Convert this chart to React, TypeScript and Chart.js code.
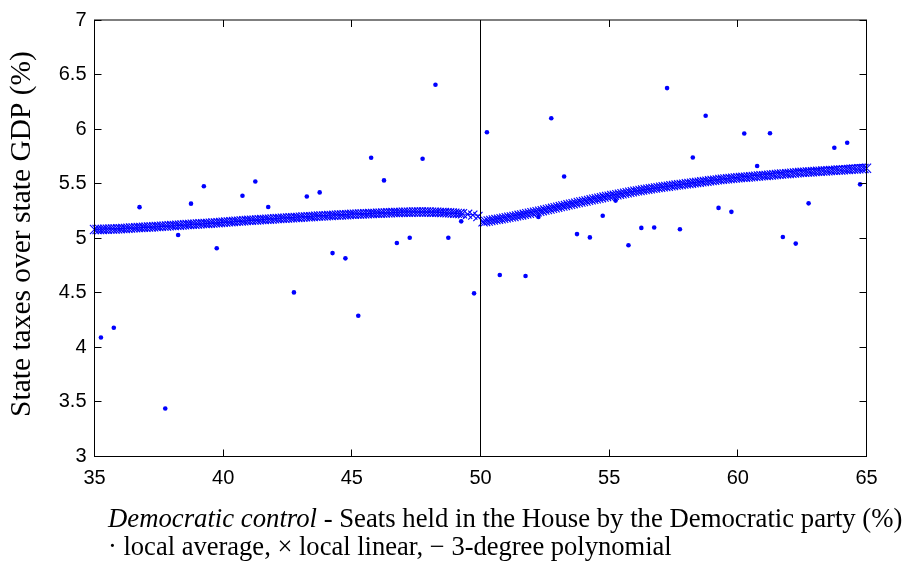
import { useEffect, useRef } from 'react';
import { Chart, registerables } from 'chart.js';

Chart.register(...registerables);

// ---- data ----
const dotX = [35.25, 35.75, 36.75, 37.75, 38.25, 38.75, 39.25, 39.75, 40.75, 41.25, 41.75, 42.75, 43.25, 43.75, 44.25, 44.75, 45.25, 45.75, 46.25, 46.75, 47.25, 47.75, 48.25, 48.75, 49.25, 49.75,
  50.25, 50.75, 51.75, 52.25, 52.75, 53.25, 53.75, 54.25, 54.75, 55.25, 55.75, 56.25, 56.75, 57.25, 57.75, 58.25, 58.75, 59.25, 59.75, 60.25, 60.75, 61.25, 61.75, 62.25, 62.75, 63.75, 64.25, 64.75];
const dotY = [4.09, 4.18, 5.285, 3.44, 5.03, 5.317, 5.476, 4.909, 5.39, 5.52, 5.287, 4.504, 5.383, 5.42, 4.864, 4.816, 4.29, 5.737, 5.53, 4.957, 5.005, 5.728, 6.406, 5.005, 5.155, 4.495,
  5.971, 4.663, 4.654, 5.195, 6.10, 5.566, 5.038, 5.008, 5.206, 5.345, 4.936, 5.095, 5.098, 6.376, 5.083, 5.74, 6.122, 5.278, 5.242, 5.96, 5.662, 5.962, 5.011, 4.951, 5.32, 5.83, 5.875, 5.494];

const crossLeftX = [35.0, 35.2, 35.4, 35.5, 35.8, 36.0, 36.2, 36.4, 36.5, 36.7, 36.9, 37.0, 37.2, 37.4, 37.6, 37.9, 38.1, 38.3, 38.4, 38.6, 38.9, 39.1, 39.3, 39.5, 39.7, 39.9,
  40.1, 40.3, 40.5, 40.7, 40.9, 41.1, 41.3, 41.6, 41.8, 42.0, 42.2, 42.4, 42.7, 42.9, 43.1, 43.3, 43.6, 43.8, 44.0, 44.3, 44.5, 44.8, 45.0, 45.2, 45.5, 45.7,
  46.0, 46.2, 46.5, 46.7, 46.9, 47.1, 47.3, 47.5, 47.7, 47.9, 48.1, 48.3, 48.5, 48.7, 48.9, 49.1, 49.3, 49.5, 49.7, 49.9];
const crossLeftY = [5.08, 5.08, 5.082, 5.083, 5.085, 5.088, 5.09, 5.094, 5.095, 5.098, 5.10, 5.101, 5.104, 5.107, 5.11, 5.114, 5.117, 5.12, 5.122, 5.125, 5.129, 5.132, 5.135, 5.138, 5.141, 5.145,
  5.148, 5.152, 5.156, 5.159, 5.162, 5.165, 5.168, 5.172, 5.175, 5.178, 5.181, 5.184, 5.188, 5.191, 5.194, 5.197, 5.201, 5.204, 5.206, 5.21, 5.213, 5.216, 5.219, 5.221, 5.224, 5.226,
  5.229, 5.231, 5.234, 5.236, 5.237, 5.238, 5.239, 5.24, 5.24, 5.24, 5.239, 5.238, 5.236, 5.234, 5.231, 5.228, 5.224, 5.219, 5.212, 5.20];
const crossLeftX2 = [35.1, 35.3, 35.6, 35.7, 35.9, 36.1, 36.3, 36.6, 36.8, 37.1, 37.3, 37.5, 37.7, 37.8, 38.0, 38.2, 38.5, 38.7, 38.8, 39.0, 39.2, 39.4, 39.6, 39.8,
  40.0, 40.2, 40.4, 40.6, 40.8, 41.0, 41.2, 41.4, 41.5, 41.7, 41.9, 42.1, 42.3, 42.5, 42.6, 42.8, 43.0, 43.2, 43.4, 43.5, 43.7, 43.9, 44.1, 44.2, 44.4, 44.6, 44.7, 44.9,
  45.1, 45.3, 45.4, 45.6, 45.8, 45.9, 46.1, 46.3, 46.4, 46.6, 46.8, 47.0, 47.2, 47.4, 47.6, 47.8, 48.0, 48.2, 48.4, 48.6, 48.8, 49.0, 49.2];
const crossLeftY2 = [5.08, 5.081, 5.084, 5.085, 5.087, 5.089, 5.092, 5.097, 5.099, 5.103, 5.106, 5.108, 5.111, 5.113, 5.116, 5.119, 5.123, 5.127, 5.128, 5.131, 5.134, 5.136, 5.14, 5.143,
  5.147, 5.15, 5.154, 5.157, 5.161, 5.164, 5.166, 5.169, 5.171, 5.174, 5.177, 5.18, 5.183, 5.185, 5.187, 5.19, 5.193, 5.196, 5.198, 5.2, 5.203, 5.205, 5.208, 5.209, 5.212, 5.214, 5.215, 5.218,
  5.22, 5.222, 5.223, 5.225, 5.227, 5.228, 5.23, 5.232, 5.233, 5.235, 5.236, 5.238, 5.239, 5.24, 5.24, 5.24, 5.24, 5.239, 5.237, 5.235, 5.233, 5.23, 5.226];

const crossRightX = [50.1, 50.3, 50.5, 50.7, 50.9, 51.1, 51.3, 51.5, 51.7, 51.9, 52.1, 52.3, 52.5, 52.7, 52.9, 53.1, 53.3, 53.5, 53.7, 53.9, 54.1, 54.3, 54.5, 54.7, 54.9,
  55.1, 55.3, 55.5, 55.7, 55.9, 56.1, 56.3, 56.5, 56.7, 56.9, 57.1, 57.3, 57.5, 57.7, 57.9, 58.1, 58.3, 58.5, 58.7, 58.9, 59.1, 59.3, 59.5, 59.7, 59.9,
  60.1, 60.3, 60.5, 60.7, 60.9, 61.1, 61.3, 61.5, 61.7, 61.9, 62.1, 62.3, 62.5, 62.7, 62.9, 63.1, 63.3, 63.5, 63.7, 63.9, 64.1, 64.3, 64.5, 64.7, 64.9, 65.0];
const crossRightY = [5.15, 5.158, 5.167, 5.175, 5.183, 5.192, 5.2, 5.21, 5.219, 5.229, 5.238, 5.248, 5.258, 5.268, 5.279, 5.29, 5.301, 5.312, 5.322, 5.332, 5.342, 5.352, 5.362, 5.372, 5.382,
  5.391, 5.399, 5.408, 5.417, 5.426, 5.434, 5.442, 5.45, 5.457, 5.464, 5.471, 5.477, 5.484, 5.49, 5.496, 5.502, 5.508, 5.514, 5.52, 5.526, 5.532, 5.538, 5.543, 5.548, 5.552,
  5.556, 5.56, 5.564, 5.568, 5.572, 5.576, 5.58, 5.584, 5.588, 5.592, 5.596, 5.6, 5.604, 5.607, 5.61, 5.613, 5.616, 5.619, 5.622, 5.625, 5.628, 5.631, 5.634, 5.637, 5.64, 5.641];
const crossRightX2 = [50.2, 50.4, 50.6, 50.8, 51.0, 51.2, 51.4, 51.6, 51.8, 52.0, 52.2, 52.4, 52.6, 52.8, 53.0, 53.2, 53.4, 53.6, 53.8, 54.0, 54.2, 54.4, 54.6, 54.8,
  55.0, 55.2, 55.4, 55.6, 55.8, 56.0, 56.2, 56.4, 56.6, 56.8, 57.0, 57.2, 57.4, 57.6, 57.8, 58.0, 58.2, 58.4, 58.6, 58.8, 59.0, 59.2, 59.4, 59.6, 59.8,
  60.0, 60.2, 60.4, 60.6, 60.8, 61.0, 61.2, 61.4, 61.6, 61.8, 62.0, 62.2, 62.4, 62.6, 62.8, 63.0, 63.2, 63.4, 63.6, 63.8, 64.0, 64.2, 64.4, 64.6, 64.8];
const crossRightY2 = [5.154, 5.163, 5.171, 5.179, 5.188, 5.196, 5.205, 5.214, 5.224, 5.233, 5.243, 5.253, 5.263, 5.274, 5.285, 5.296, 5.306, 5.317, 5.327, 5.337, 5.347, 5.357, 5.367, 5.377,
  5.386, 5.395, 5.404, 5.413, 5.422, 5.43, 5.438, 5.446, 5.453, 5.46, 5.467, 5.474, 5.481, 5.487, 5.493, 5.499, 5.505, 5.511, 5.517, 5.523, 5.529, 5.535, 5.54, 5.545, 5.55,
  5.554, 5.558, 5.562, 5.566, 5.57, 5.574, 5.578, 5.582, 5.586, 5.59, 5.594, 5.598, 5.602, 5.605, 5.608, 5.611, 5.614, 5.617, 5.62, 5.623, 5.626, 5.629, 5.632, 5.635, 5.638];

const polyLeftX = [35, 37, 40, 43, 46, 48, 50];
const polyLeftY = [5.08, 5.10, 5.145, 5.195, 5.23, 5.24, 5.21];
const polyRightX = [50, 52, 55, 58, 61, 63, 65];
const polyRightY = [5.15, 5.24, 5.39, 5.50, 5.585, 5.635, 5.68];

const cutoffX = [50, 50];
const cutoffY = [3, 7];

const yTitle = 'State taxes over state GDP (%)';
const xTitleItalic = 'Democratic control';
const xTitleRest = ' - Seats held in the House by the Democratic party (%)';
const xTitleLine2 = '\u00B7 local average, \u00D7 local linear, \u2212 3-degree polynomial';

const BLUE = '#0000ff';
const SERIF = "'Liberation Serif', 'DejaVu Serif', serif";
const SANS = "'Liberation Sans', Arial, sans-serif";

const pts = (xs: number[], ys: number[]) => xs.map((x, i) => ({ x, y: ys[i] }));

const framePlugin = {
  id: 'frameTicks',
  afterDraw(chart: any) {
    const { ctx, chartArea: a, scales } = chart;
    ctx.save();
    ctx.strokeStyle = '#000';
    ctx.lineWidth = 1;
    ctx.strokeRect(a.left, a.top, a.right - a.left, a.bottom - a.top);
    const len = 7;
    ctx.beginPath();
    scales.x.ticks.forEach((t: any) => {
      const px = Math.floor(scales.x.getPixelForValue(t.value)) + 0.5;
      ctx.moveTo(px, a.bottom); ctx.lineTo(px, a.bottom - len);
      ctx.moveTo(px, a.top); ctx.lineTo(px, a.top + len);
    });
    scales.y.ticks.forEach((t: any) => {
      const py = Math.floor(scales.y.getPixelForValue(t.value)) + 0.5;
      ctx.moveTo(a.left, py); ctx.lineTo(a.left + len, py);
      ctx.moveTo(a.right, py); ctx.lineTo(a.right - len, py);
    });
    ctx.stroke();

    // titles
    ctx.fillStyle = '#000';
    ctx.textBaseline = 'alphabetic';
    ctx.textAlign = 'left';
    ctx.font = `italic 100px ${SERIF}`;
    const w1a = ctx.measureText(xTitleItalic).width;
    ctx.font = `100px ${SERIF}`;
    const w1b = ctx.measureText(xTitleRest).width;
    const s1 = (795 / (w1a + w1b)) * 100;
    ctx.font = `italic ${s1}px ${SERIF}`;
    ctx.fillText(xTitleItalic, 108, 527);
    const wa = ctx.measureText(xTitleItalic).width;
    ctx.font = `${s1}px ${SERIF}`;
    ctx.fillText(xTitleRest, 108 + wa, 527);
    ctx.font = `100px ${SERIF}`;
    const w2 = ctx.measureText(xTitleLine2).width;
    const s2 = (564 / w2) * 100;
    ctx.font = `${s2}px ${SERIF}`;
    ctx.fillText(xTitleLine2, 108, 555);
    ctx.font = `100px ${SERIF}`;
    const wy = ctx.measureText(yTitle).width;
    const sy = (366 / wy) * 100;
    ctx.font = `${sy}px ${SERIF}`;
    ctx.translate(30, 234);
    ctx.rotate(-Math.PI / 2);
    ctx.textAlign = 'center';
    ctx.fillText(yTitle, 0, 0);
    ctx.restore();
  },
};

const crossStyle = {
  pointStyle: 'crossRot', pointRadius: 6.5, borderColor: BLUE, backgroundColor: BLUE, borderWidth: 1.1, clip: false,
};

export default function App() {
  const ref = useRef<HTMLCanvasElement>(null);
  useEffect(() => {
    const chart = new Chart(ref.current!, {
      type: 'scatter',
      data: {
        datasets: [
          {
            label: 'cutoff', data: pts(cutoffX, cutoffY), showLine: true, borderColor: '#000', borderWidth: 1,
            pointRadius: 0, backgroundColor: '#000',
          },
          { label: 'local linear (left)', data: pts(crossLeftX, crossLeftY), ...crossStyle },
          { label: 'local linear (left, 2)', data: pts(crossLeftX2, crossLeftY2), ...crossStyle },
          { label: 'local linear (right)', data: pts(crossRightX, crossRightY), ...crossStyle },
          { label: 'local linear (right, 2)', data: pts(crossRightX2, crossRightY2), ...crossStyle },
          {
            label: 'polynomial (left)', data: pts(polyLeftX, polyLeftY), showLine: true, tension: 0.4, pointRadius: 0,
            borderColor: BLUE, borderWidth: 1,
          },
          {
            label: 'polynomial (right)', data: pts(polyRightX, polyRightY), showLine: true, tension: 0.4, pointRadius: 0,
            borderColor: BLUE, borderWidth: 1,
          },
          {
            label: 'local average', data: pts(dotX, dotY), pointStyle: 'circle', pointRadius: 2.3,
            backgroundColor: BLUE, borderWidth: 0,
          },
        ],
      },
      options: {
        responsive: false,
        animation: false,
        events: [],
        layout: { padding: { top: 12.5, right: 39.5, left: 0, bottom: 0 } },
        plugins: { legend: { display: false }, tooltip: { enabled: false } },
        scales: {
          x: {
            type: 'linear', min: 35, max: 65,
            grid: { display: false, drawTicks: false },
            border: { display: false },
            ticks: { stepSize: 5, padding: 10, color: '#000', font: { family: SANS, size: 20 }, maxRotation: 0 },
            afterFit: (s: any) => { s.height = 108.5; },
          },
          y: {
            type: 'linear', min: 3, max: 7,
            grid: { display: false, drawTicks: false },
            border: { display: false },
            ticks: { stepSize: 0.5, padding: 8, color: '#000', font: { family: SANS, size: 20 }, callback: (v: any) => String(v) },
            afterFit: (s: any) => { s.width = 94.5; },
          },
        },
      },
      plugins: [framePlugin],
    } as any);
    return () => chart.destroy();
  }, []);
  return (
    <div style={{ position: 'fixed', left: 0, top: 0, width: 906, height: 565, background: '#fff' }}>
      <canvas ref={ref} width={906} height={565} style={{ display: 'block' }} />
    </div>
  );
}
